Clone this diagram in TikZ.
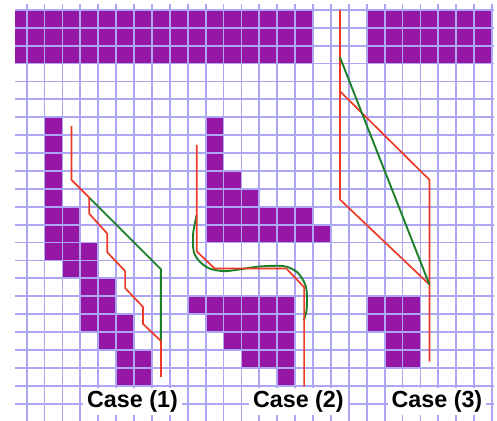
\documentclass[tikz,border=0pt]{standalone}
\usepackage{fontspec}
\usepackage{xcolor}
\setmainfont{Liberation Sans}

\definecolor{cellpurple}{RGB}{150,22,166}
\definecolor{gridlav}{RGB}{172,166,245}
\definecolor{pathred}{RGB}{236,58,38}
\definecolor{pathgreen}{RGB}{28,128,40}

\begin{document}
\begin{tikzpicture}[x=17.9pt, y=-17.9pt,
    gridline/.style={draw=gridlav, line width=1.8pt},
    redpath/.style={draw=pathred, line width=1.7pt, line join=round},
    greenpath/.style={draw=pathgreen, line width=1.9pt, line join=round},
    caselabel/.style={fill=white, font=\bfseries\fontsize{23.3}{24}\selectfont, inner xsep=4pt, inner ysep=2.5pt},]
                    \useasboundingbox (-0.4916,-0.5475) rectangle (27.274,22.972);

                    \fill[cellpurple] (0.35,0) rectangle (17,3);
                    \fill[cellpurple] (20,0) rectangle (27,3);
                    % row/first column/last column
                    \foreach \r/\a/\b in {6/2/2,7/2/2,8/2/2,9/2/2,10/2/2,11/2/3,12/2/3,13/2/4,14/3/4,15/4/5,16/4/5,17/4/6,18/5/6,19/6/7,20/6/7,
                                          6/11/11,7/11/11,8/11/11,9/11/12,10/11/13,11/11/16,12/11/17,16/10/15,17/11/15,18/12/15,19/13/15,20/15/15,
                                          16/20/22,17/20/22,18/21/22,19/21/22}
                        \fill[cellpurple] (\a,\r) rectangle ({\b+1},{\r+1});

                    \foreach \j in {0,...,22}
                        \draw[gridline] (0.35,\j) -- (27.12,\j);
                    \foreach \k in {1,...,27}
                        \draw[gridline] (\k,-0.33) -- (\k,22.97);

                    \draw[greenpath] (4.5,10.5) -- (8.5,14.5) -- (8.5,18.5);
                    \draw[redpath] (3.5,6.5) -- (3.5,9.5) -- (4.5,10.5) -- (4.5,11.4) -- (5.5,12.5) -- (5.5,13.55) -- (6.5,14.6) -- (6.5,15.55)
                        -- (7.5,16.6) -- (7.5,17.55) -- (8.5,18.5) -- (8.5,20.5);

                    \draw[greenpath] plot[smooth] coordinates {(10.5,11.45) (10.3,12.5) (10.33,13.5) (10.65,14.05) (11.2,14.45) (12.0,14.6)
                        (12.8,14.52) (13.9,14.35) (15.0,14.3) (15.55,14.36) (16.1,14.65) (16.47,15.15) (16.64,15.7) (16.64,16.75) (16.48,17.35)};
                    \draw[redpath] (10.5,7.55) -- (10.5,13.5) -- (11.5,14.45) -- (15.5,14.45) -- (16.5,15.5) -- (16.5,21.05);

                    \draw[redpath] (18.5,0) -- (18.5,10.6) -- (23.5,15.35) -- (23.5,19.65);
                    \draw[redpath] (18.5,4.55) -- (23.5,9.5) -- (23.5,15.35);
                    \draw[greenpath] (18.5,2.65) -- (23.5,15.35);

                    \node [caselabel](case1) at (6.91,21.9) {Case (1)};
                    \node [caselabel](case2) at (16.18,21.9) {Case (2)};
                    \node [caselabel](case3) at (23.92,21.9) {Case (3)};
\end{tikzpicture}
\end{document}
